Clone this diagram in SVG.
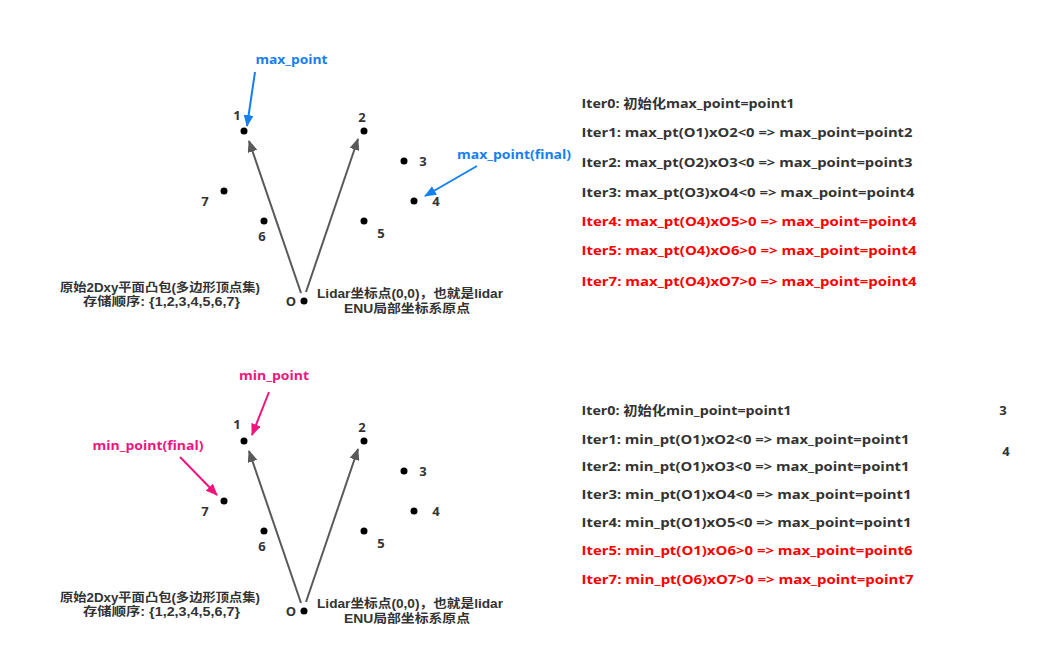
<svg xmlns="http://www.w3.org/2000/svg" width="1057" height="661" viewBox="0 0 1057 661">
<style>
text{font-family:"Open Sans","Noto Sans CJK SC",sans-serif;font-weight:bold;font-size:13px;fill:#333}
.r{fill:#f00}
.b{fill:#1680f0}
.p{fill:#f0157e}
.m{text-anchor:middle}
.s{font-family:"Liberation Sans","Noto Sans CJK SC",sans-serif;font-size:12px}
.l{font-family:"Liberation Sans","Noto Sans CJK SC",sans-serif;font-size:12.5px}
.dot{fill:#000}
.ax{stroke:#595959;stroke-width:2;fill:none}
.ab{stroke:#1680f0;stroke-width:2;fill:none}
.ap{stroke:#f0157e;stroke-width:2;fill:none}
</style>
<defs>
<marker id="mg" viewBox="0 0 12 10" refX="11" refY="5" markerWidth="12" markerHeight="10" markerUnits="userSpaceOnUse" orient="auto"><path d="M0,0L12,5L0,10z" fill="#595959"/></marker>
<marker id="mb" viewBox="0 0 12 10" refX="11" refY="5" markerWidth="12" markerHeight="10" markerUnits="userSpaceOnUse" orient="auto"><path d="M0,0L12,5L0,10z" fill="#1680f0"/></marker>
<marker id="mp" viewBox="0 0 12 10" refX="11" refY="5" markerWidth="12" markerHeight="10" markerUnits="userSpaceOnUse" orient="auto"><path d="M0,0L12,5L0,10z" fill="#f0157e"/></marker>
</defs>
<rect width="1057" height="661" fill="#fff"/>

<g id="connectors">
<line class="ax" x1="301" y1="293" x2="249" y2="141" marker-end="url(#mg)"/>
<line class="ax" x1="306" y1="292" x2="358" y2="139" marker-end="url(#mg)"/>
<line class="ab" x1="255" y1="72" x2="247" y2="126" marker-end="url(#mb)"/>
<line class="ab" x1="477" y1="166" x2="425" y2="196" marker-end="url(#mb)"/>
<line class="ax" x1="301" y1="603" x2="249" y2="451" marker-end="url(#mg)"/>
<line class="ax" x1="306" y1="602" x2="358" y2="449" marker-end="url(#mg)"/>
<line class="ap" x1="269" y1="392" x2="252" y2="435" marker-end="url(#mp)"/>
<line class="ap" x1="180" y1="457" x2="217" y2="495" marker-end="url(#mp)"/>
</g>

<g id="top-points">
<g id="t1"><circle class="dot" cx="244" cy="131" r="3.5"/><text x="237" y="120" class="m">1</text></g>
<g id="t2"><circle class="dot" cx="364" cy="131" r="3.5"/><text x="362" y="122" class="m">2</text></g>
<g id="t3"><circle class="dot" cx="404" cy="161" r="3.5"/><text x="423" y="166" class="m">3</text></g>
<g id="t4"><circle class="dot" cx="414" cy="201" r="3.5"/><text x="436" y="206" class="m">4</text></g>
<g id="t5"><circle class="dot" cx="364" cy="221" r="3.5"/><text x="381" y="238" class="m">5</text></g>
<g id="t6"><circle class="dot" cx="264" cy="221" r="3.5"/><text x="262" y="241" class="m">6</text></g>
<g id="t7"><circle class="dot" cx="224" cy="191" r="3.5"/><text x="205" y="206" class="m">7</text></g>
<g id="tO"><circle class="dot" cx="304" cy="301" r="3.5"/><text x="291" y="306" class="m">O</text></g>
</g>
<g id="top-labels">
<text x="255.5" y="64" class="b" textLength="72" lengthAdjust="spacingAndGlyphs">max_point</text>
<text x="457" y="159" class="b" textLength="114" lengthAdjust="spacingAndGlyphs">max_point(final)</text>
<text x="60" y="292" class="s" textLength="200" lengthAdjust="spacingAndGlyphs">原始2Dxy平面凸包(多边形顶点集)</text>
<text x="83" y="306" class="s" textLength="157" lengthAdjust="spacingAndGlyphs">存储顺序: {1,2,3,4,5,6,7}</text>
<text x="317" y="298" class="l" textLength="186" lengthAdjust="spacingAndGlyphs">Lidar坐标点(0,0)，也就是lidar</text>
<text x="344" y="312.5" class="l" textLength="126" lengthAdjust="spacingAndGlyphs">ENU局部坐标系原点</text>
</g>
<g id="top-iters">
<text x="581.5" y="108" textLength="213" lengthAdjust="spacingAndGlyphs">Iter0: 初始化max_point=point1</text>
<text x="581.5" y="137" textLength="331" lengthAdjust="spacingAndGlyphs">Iter1: max_pt(O1)xO2&lt;0 =&gt; max_point=point2</text>
<text x="581.5" y="167" textLength="331" lengthAdjust="spacingAndGlyphs">Iter2: max_pt(O2)xO3&lt;0 =&gt; max_point=point3</text>
<text x="581.5" y="197" textLength="333" lengthAdjust="spacingAndGlyphs">Iter3: max_pt(O3)xO4&lt;0 =&gt; max_point=point4</text>
<text x="581.5" y="226" class="r" textLength="335" lengthAdjust="spacingAndGlyphs">Iter4: max_pt(O4)xO5&gt;0 =&gt; max_point=point4</text>
<text x="581.5" y="255" class="r" textLength="335" lengthAdjust="spacingAndGlyphs">Iter5: max_pt(O4)xO6&gt;0 =&gt; max_point=point4</text>
<text x="581.5" y="286" class="r" textLength="335" lengthAdjust="spacingAndGlyphs">Iter7: max_pt(O4)xO7&gt;0 =&gt; max_point=point4</text>
</g>

<g id="bottom-points">
<g id="b1"><circle class="dot" cx="244" cy="441" r="3.5"/><text x="237" y="429" class="m">1</text></g>
<g id="b2"><circle class="dot" cx="364" cy="441" r="3.5"/><text x="362" y="432" class="m">2</text></g>
<g id="b3"><circle class="dot" cx="404" cy="471" r="3.5"/><text x="423" y="476" class="m">3</text></g>
<g id="b4"><circle class="dot" cx="414" cy="511" r="3.5"/><text x="436" y="516" class="m">4</text></g>
<g id="b5"><circle class="dot" cx="364" cy="531" r="3.5"/><text x="381" y="548" class="m">5</text></g>
<g id="b6"><circle class="dot" cx="264" cy="531" r="3.5"/><text x="262" y="551" class="m">6</text></g>
<g id="b7"><circle class="dot" cx="224" cy="501" r="3.5"/><text x="205" y="516" class="m">7</text></g>
<g id="bO"><circle class="dot" cx="304" cy="611" r="3.5"/><text x="291" y="616" class="m">O</text></g>
</g>
<g id="bottom-labels">
<text x="239" y="380" class="p" textLength="70" lengthAdjust="spacingAndGlyphs">min_point</text>
<text x="92.5" y="450" class="p" textLength="111" lengthAdjust="spacingAndGlyphs">min_point(final)</text>
<text x="60" y="602" class="s" textLength="200" lengthAdjust="spacingAndGlyphs">原始2Dxy平面凸包(多边形顶点集)</text>
<text x="83" y="616" class="s" textLength="157" lengthAdjust="spacingAndGlyphs">存储顺序: {1,2,3,4,5,6,7}</text>
<text x="317" y="608" class="l" textLength="186" lengthAdjust="spacingAndGlyphs">Lidar坐标点(0,0)，也就是lidar</text>
<text x="344" y="622.5" class="l" textLength="126" lengthAdjust="spacingAndGlyphs">ENU局部坐标系原点</text>
</g>
<g id="bottom-iters">
<text x="581.5" y="415" textLength="210" lengthAdjust="spacingAndGlyphs">Iter0: 初始化min_point=point1</text>
<text x="581.5" y="444" textLength="328" lengthAdjust="spacingAndGlyphs">Iter1: min_pt(O1)xO2&lt;0 =&gt; max_point=point1</text>
<text x="581.5" y="471" textLength="328" lengthAdjust="spacingAndGlyphs">Iter2: min_pt(O1)xO3&lt;0 =&gt; max_point=point1</text>
<text x="581.5" y="499" textLength="330" lengthAdjust="spacingAndGlyphs">Iter3: min_pt(O1)xO4&lt;0 =&gt; max_point=point1</text>
<text x="581.5" y="527" textLength="330" lengthAdjust="spacingAndGlyphs">Iter4: min_pt(O1)xO5&lt;0 =&gt; max_point=point1</text>
<text x="581.5" y="555" class="r" textLength="331" lengthAdjust="spacingAndGlyphs">Iter5: min_pt(O1)xO6&gt;0 =&gt; max_point=point6</text>
<text x="581.5" y="584" class="r" textLength="332" lengthAdjust="spacingAndGlyphs">Iter7: min_pt(O6)xO7&gt;0 =&gt; max_point=point7</text>
<text x="1003" y="415" class="m">3</text>
<text x="1006" y="456" class="m">4</text>
</g>
</svg>
